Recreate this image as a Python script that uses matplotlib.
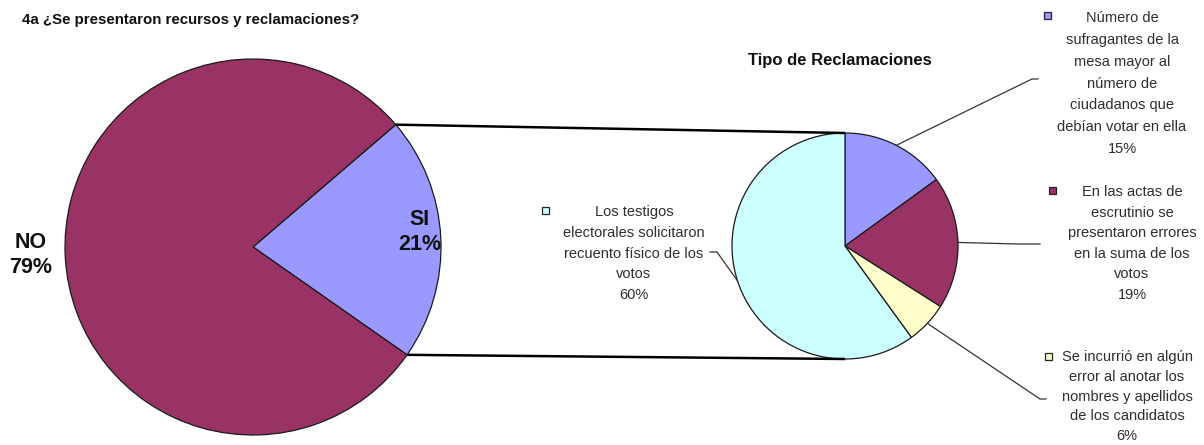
import numpy as np
import matplotlib
matplotlib.use("Agg")
import matplotlib.pyplot as plt
from matplotlib.patches import Rectangle

plt.rcParams['font.family'] = ['Liberation Sans', 'DejaVu Sans']

# ---- data ----
title_main = '4a ¿Se presentaron recursos y reclamaciones?'
title_claims = 'Tipo de Reclamaciones'

main_labels = ['SI', 'NO']
main_values = [21, 79]

claim_labels = [
    'Número de\nsufragantes de la\nmesa mayor al\nnúmero de\nciudadanos que\ndebían votar en ella',
    'En las actas de\nescrutinio se\npresentaron errores\nen la suma de los\nvotos',
    'Se incurrió en algún\nerror al anotar los\nnombres y apellidos\nde los candidatos',
    'Los testigos\nelectorales solicitaron\nrecuento físico de los\nvotos',
]
claim_values = [15, 19, 6, 60]

# ---- styling / layout ----
MAROON = '#993366'
LAVENDER = '#9999FF'
CYAN = '#CCFFFF'
CREAM = '#FFFFCC'
main_colors = [LAVENDER, MAROON]
claim_colors = [LAVENDER, MAROON, CREAM, CYAN]
TEXT = '#2e2e2e'

W, H = 1204, 445
fig = plt.figure(figsize=(W / 100, H / 100), dpi=100)
ax = fig.add_axes([0, 0, 1, 1])

c1, r1 = (253, 198), 188     # main pie
c2, r2 = (845, 199), 113     # breakdown pie
edge = dict(edgecolor='#1a1a1a', linewidth=0.9)

w1, _ = ax.pie(main_values, colors=main_colors, startangle=-35,
               center=c1, radius=r1, wedgeprops=edge, frame=True)
w2, _ = ax.pie(claim_values, colors=claim_colors, startangle=90,
               counterclock=False, center=c2, radius=r2,
               wedgeprops=edge, frame=True)

ax.set_xlim(0, W)
ax.set_ylim(0, H)
ax.set_aspect('equal', adjustable='box')
ax.axis('off')

# connectors from the SI wedge to the breakdown pie
si = w1[0]
for ang, sgn in ((si.theta2, 1), (si.theta1, -1)):
    a = np.deg2rad(ang)
    p0 = (c1[0] + r1 * np.cos(a), c1[1] + r1 * np.sin(a))
    p1 = (c2[0], c2[1] + sgn * r2)
    ax.plot([p0[0], p1[0]], [p0[1], p1[1]], color='black', lw=1.8,
            solid_capstyle='butt', zorder=1)

# labels on the main pie
main_pos = [(420, 213), (31, 190)]
for lab, val, (x, y) in zip(main_labels, main_values, main_pos):
    ax.text(x, y, f'{lab}\n{val}%', ha='center', va='center',
            fontsize=15.5, fontweight='bold', color='#111111', linespacing=1.2)

# titles
ax.text(22, H - 20, title_main, ha='left', va='center', fontsize=10.8,
        fontweight='bold', color='#111111')
ax.text(840, H - 60, title_claims, ha='center', va='center', fontsize=12,
        fontweight='bold', color='#111111')

# breakdown labels: text centre, leader elbow, leader end, legend key
text_pos = [(1122, 361.5), (1132, 201.5), (1127, 48.5), (634, 191.5)]
spacing = [1.70, 1.60, 1.53, 1.62]
elbows = [(1032, 366), (1018, 201), (1040, 46), (717, 193)]
ends = [(1038, 366), (1040, 201), (1046, 46), (710, 193)]
keys = [(1047, 430), (1052, 255), (1048, 89), (545, 235)]

for i, (lab, val) in enumerate(zip(claim_labels, claim_values)):
    wdg = w2[i]
    mid = np.deg2rad((wdg.theta1 + wdg.theta2) / 2)
    start = (c2[0] + r2 * np.cos(mid), c2[1] + r2 * np.sin(mid))
    xs = [start[0], elbows[i][0], ends[i][0]]
    ys = [start[1], elbows[i][1], ends[i][1]]
    ax.plot(xs, ys, color='#333333', lw=0.9, zorder=1)
    tx, ty = text_pos[i]
    ax.text(tx, ty, f'{lab}\n{val}%', ha='center', va='center',
            fontsize=10.5, color=TEXT, linespacing=spacing[i])
    kx, ky = keys[i]
    ax.add_patch(Rectangle((kx - 3.5, ky - 3.5), 7, 7,
                           facecolor=claim_colors[i], edgecolor='#222222',
                           lw=0.9))

fig.savefig('out.png', dpi=100)
